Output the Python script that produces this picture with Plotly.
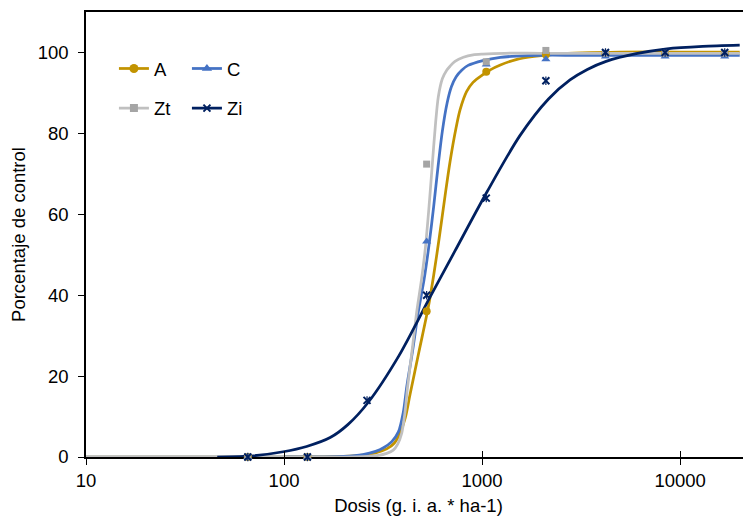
import plotly.graph_objects as go

# observed data points
doses = [65.625, 131.25, 262.5, 525, 1050, 2100, 4200, 8400, 16800]
A_pts = [0, 0, -0.8, 36, 95.2, 99.5, 99.6, 99.6, 99.6]
C_pts = [0, 0, -0.8, 53.3, 97, 98.3, 99.0, 99.0, 99.0]
Zt_pts = [0, 0, -0.8, 72.4, 97.7, 100.5, 99.8, 99.8, 99.8]
Zi_pts = [0, 0, 14, 40, 64, 93, 100, 100, 100]

# fitted curves
A_cx = [10, 100, 150, 200, 250, 290, 330, 360, 385, 410, 433, 480, 535, 570, 607, 650, 689, 740, 774, 835, 900, 1010, 1100, 1237, 1500, 1830, 2400, 3200, 5000, 10000, 20000]
A_cy = [0, 0, 0.05, 0.15, 0.45, 1.0, 2.0, 3.4, 5.9, 9.8, 15.5, 26, 37, 45, 54, 64.5, 73, 81.5, 85.8, 90.3, 92.6, 94.5, 95.7, 96.9, 98.3, 99.0, 99.6, 99.9, 100.1, 100.1, 100.1]

C_cx = [10, 100, 150, 200, 250, 290, 318, 350, 378, 400, 417, 445, 477, 510, 540, 570, 600, 630, 666, 700, 740, 789, 850, 1010, 1237, 1500, 2000, 3000, 6000, 20000]
C_cy = [0, 0, 0.05, 0.15, 0.6, 1.4, 2.3, 3.8, 6.2, 11, 17.5, 26, 36, 44, 52.5, 62, 72, 80.5, 87.5, 91.5, 94, 95.6, 96.8, 98, 98.8, 99.1, 99.3, 99.3, 99.3, 99.3]

Zt_cx = [10, 200, 250, 300, 330, 356, 375, 393, 408, 421, 445, 468, 495, 518, 540, 560, 580, 601, 630, 663, 689, 730, 805, 900, 1010, 1300, 2000, 20000]
Zt_cy = [0, 0, 0.1, 0.4, 0.9, 1.7, 3.2, 5.9, 11, 17.5, 27, 36, 44, 52, 62, 72, 81.5, 89, 93.5, 95.6, 96.6, 97.8, 98.8, 99.4, 99.6, 99.8, 99.8, 99.8]

Zi_cx = [46, 70, 99, 130, 171, 210, 267, 380, 546, 731, 1058, 1556, 2165, 2780, 3400, 4230, 6000, 8580, 13000, 20000]
Zi_cy = [0, 0.3, 1.3, 2.6, 4.8, 8.0, 13.6, 25, 39.5, 51, 65.5, 79.5, 88.5, 93.2, 95.8, 97.8, 99.7, 100.9, 101.5, 101.8]

x_ticks = [10, 100, 1000, 10000]
x_ticktext = ["10", "100", "1000", "10000"]
y_ticks = [0, 20, 40, 60, 80, 100]

GOLD = "#C29300"
BLUE = "#4472C4"
GRAY_L = "#C0C0C0"
GRAY_M = "#A5A5A5"
NAVY = "#002060"
FONT = "Liberation Sans, Arial, sans-serif"

fig = go.Figure()

# curves
for cx, cy, col in [(A_cx, A_cy, GOLD), (C_cx, C_cy, BLUE), (Zt_cx, Zt_cy, GRAY_L), (Zi_cx, Zi_cy, NAVY)]:
    fig.add_trace(go.Scatter(x=cx, y=cy, mode="lines", line=dict(color=col, width=2.75, shape="spline", smoothing=0.8),
                             showlegend=False, hoverinfo="skip"))

# markers
fig.add_trace(go.Scatter(x=doses, y=A_pts, mode="markers", showlegend=False, cliponaxis=False,
                         marker=dict(symbol="circle", size=8, color=GOLD)))
fig.add_trace(go.Scatter(x=doses, y=C_pts, mode="markers", showlegend=False, cliponaxis=False,
                         marker=dict(symbol="triangle-up", size=8, color=BLUE)))
fig.add_trace(go.Scatter(x=doses, y=Zt_pts, mode="markers", showlegend=False, cliponaxis=False,
                         marker=dict(symbol="square", size=7, color=GRAY_M)))
fig.add_trace(go.Scatter(x=doses, y=Zi_pts, mode="markers", showlegend=False, cliponaxis=False,
                         marker=dict(symbol="x-thin-open", size=7, color=NAVY, line=dict(width=2, color=NAVY))))
fig.add_trace(go.Scatter(x=doses, y=Zi_pts, mode="markers", showlegend=False, cliponaxis=False,
                         marker=dict(symbol="line-ns-open", size=6, color=NAVY, line=dict(width=1.2, color=NAVY))))

# legend entries
fig.add_trace(go.Scatter(x=[None], y=[None], mode="lines+markers", name="A", legend="legend",
                         line=dict(color=GOLD, width=2.75), marker=dict(symbol="circle", size=9, color=GOLD)))
fig.add_trace(go.Scatter(x=[None], y=[None], mode="lines+markers", name="C", legend="legend",
                         line=dict(color=BLUE, width=2.75), marker=dict(symbol="triangle-up", size=9, color=BLUE)))
fig.add_trace(go.Scatter(x=[None], y=[None], mode="lines+markers", name="Zt", legend="legend2",
                         line=dict(color=GRAY_L, width=2.75), marker=dict(symbol="square", size=8, color=GRAY_M)))
fig.add_trace(go.Scatter(x=[None], y=[None], mode="lines+markers", name="Zi", legend="legend2",
                         line=dict(color=NAVY, width=2.75),
                         marker=dict(symbol="x-thin-open", size=7, color=NAVY, line=dict(width=2, color=NAVY))))

# invisible trace for the overlay axis (cross ticks)
fig.add_trace(go.Scatter(x=[100], y=[None], xaxis="x2", mode="markers", showlegend=False, hoverinfo="skip"))

xr = [1, 4.358]
fig.update_layout(
    width=743, height=512,
    margin=dict(l=78, r=0, t=4, b=63, autoexpand=False),
    paper_bgcolor="white", plot_bgcolor="white",
    font=dict(family=FONT, size=18.5, color="black"),
    xaxis=dict(type="log", range=xr, tickvals=x_ticks, ticktext=x_ticktext,
               ticks="outside", ticklen=6, tickwidth=1.2, tickcolor="black",
               showline=True, linecolor="black", linewidth=1.5, mirror=True,
               showgrid=False, zeroline=False, layer="below traces", automargin=False,
               title=dict(text="Dosis (g. i. a. * ha-1)", standoff=9, font=dict(size=18.5))),
    xaxis2=dict(type="log", range=xr, overlaying="x", anchor="y", side="bottom", automargin=False,
                tickvals=x_ticks, ticks="inside", ticklen=6, tickwidth=1.2, tickcolor="black",
                showticklabels=False, showline=False, showgrid=False, zeroline=False),
    yaxis=dict(range=[0, 110], tickvals=y_ticks, ticks="outside", ticklen=6, tickwidth=1.2,
               tickcolor="black", showline=True, linecolor="black", linewidth=1.5,
               showgrid=False, zeroline=False, layer="below traces", automargin=False,
               ticklabelstandoff=6,
               title=dict(text="Porcentaje de control", standoff=8, font=dict(size=18.5))),
    legend=dict(orientation="h", x=0.042, y=0.872, xanchor="left", yanchor="middle",
                entrywidth=28, bgcolor="rgba(0,0,0,0)", font=dict(size=18.5)),
    legend2=dict(orientation="h", x=0.042, y=0.783, xanchor="left", yanchor="middle",
                 entrywidth=28, bgcolor="rgba(0,0,0,0)", font=dict(size=18.5)),
)

fig.write_html("out.html")
